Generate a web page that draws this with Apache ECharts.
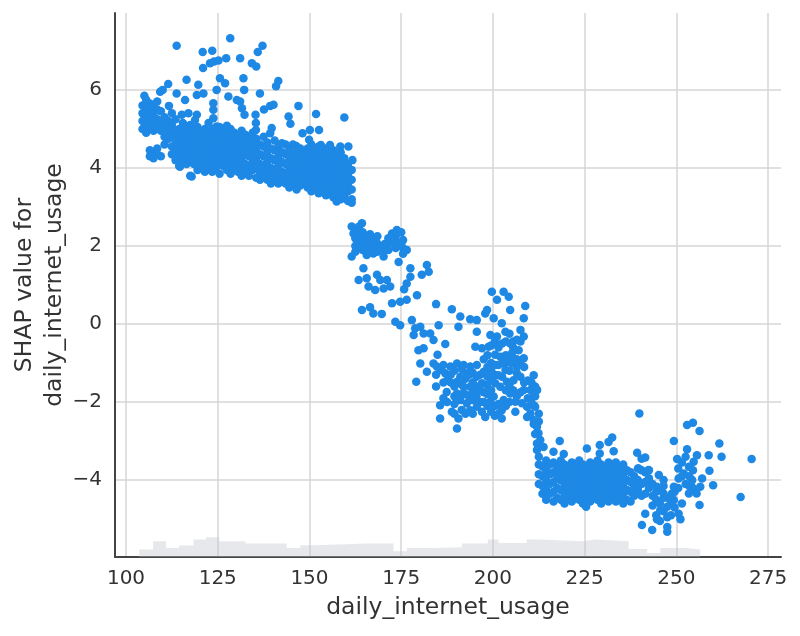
<!DOCTYPE html>
<html><head><meta charset="utf-8">
<script src="https://cdn.jsdelivr.net/npm/echarts@6/dist/echarts.min.js"></script>
<style>html,body{margin:0;padding:0;background:#fff}#c{width:800px;height:636px}</style>
</head><body><div id="c"></div>
<script>
const xTicks = [100,125,150,175,200,225,250,275];
const yTicks = [-4,-2,0,2,4,6];
const xTitle = 'daily_internet_usage';
const yTitle = 'SHAP value for\ndaily_internet_usage';

// histogram of daily_internet_usage (bin edges, relative counts)
const histEdges = [103.6,107.4,110.9,114.5,118.4,121.8,125.4,132.5,143.8,147.5,150.6,158.2,165.6,172.9,176.5,180.2,183.8,191.5,198.6,201.5,209.2,212.9,224.2,227.9,237.0,242.0,245.6,252.5,256.5];
const histCounts = [7.5,15.7,9,11.4,17.4,19.7,15.7,13.4,9,11.7,12.5,13.4,13.4,5.7,9,9,9.7,13.4,17.4,14,17.4,15.7,17.4,15.7,8,4,9,7.4];

// dense columns: [usage, [shap values...]]
const colsA = [
[104.5,[5.6,5.4,5.2,5.0]],[105.5,[5.75,5.5,5.3,5.1,4.9]],[106.5,[5.65,5.45,5.25,5.05,4.45,4.3]],
[107.5,[5.55,5.35,5.15,4.95,4.4,4.25]],[108.5,[5.7,5.5,5.25,5.05,4.5,4.35]],[109.5,[5.45,5.2,4.95,4.3]],
[110.5,[5.3,5.05,4.8,4.6]],[111.5,[5.2,4.95,4.75]],[112.5,[5.1,4.85,4.55,4.35]],[113.5,[5.25,4.95,4.7,4.45,4.2]],
[114.5,[5.0,4.8,4.55,4.3,4.05]],[115.5,[5.15,4.9,4.65,4.45,4.2]],[116.5,[5.0,4.75,4.55,4.3,4.1]],
[117.5,[5.1,4.85,4.6,4.4,4.2,3.8]],[118.5,[4.95,4.7,4.5,4.3,4.1]],[119.5,[5.05,4.8,4.55,4.35,4.15,3.95]],
[120.5,[4.9,4.65,4.45,4.25,4.05]],[121.5,[5.0,4.75,4.5,4.3,4.1,3.9]],[122.5,[4.85,4.6,4.4,4.2,4.0]],
[123.5,[5.0,4.75,4.5,4.3,4.1,3.9]],[124.5,[4.9,4.65,4.45,4.25,4.0]],[125.5,[5.05,4.8,4.55,4.35,4.15,3.85]],
[126.5,[4.95,4.7,4.5,4.3,4.05]],[127.5,[4.85,4.6,4.4,4.2,3.95]],[128.5,[5.0,4.75,4.55,4.3,4.1,3.85]],
[129.5,[4.9,4.65,4.45,4.2,4.0]],[130.5,[4.8,4.55,4.35,4.15,3.9]],[131.5,[4.95,4.7,4.45,4.25,4.0,3.8]],
[132.5,[4.85,4.6,4.35,4.1,3.9]],[133.5,[4.75,4.5,4.3,4.05,3.8]],[134.5,[4.9,4.65,4.4,4.15,3.95]],
[135.5,[4.75,4.5,4.25,4.0,3.75]],[136.5,[4.6,4.35,4.1,3.9,3.7]],[137.5,[4.8,4.55,4.3,4.05,3.8]],
[138.5,[4.65,4.4,4.15,3.9,3.7]],[139.5,[4.5,4.25,4.0,3.8,3.6]],[140.5,[4.7,4.45,4.2,3.95,3.7]],
[141.5,[4.55,4.3,4.05,3.85,3.6]],[142.5,[4.4,4.15,3.9,3.7]],[143.5,[4.6,4.35,4.1,3.85,3.6]],
[144.5,[4.45,4.2,3.95,3.75,3.5]],[145.5,[4.6,4.3,4.05,3.8,3.6]],[146.5,[4.4,4.15,3.9,3.7,3.45]],
[147.5,[4.5,4.25,4.0,3.75,3.55]],[148.5,[4.35,4.1,3.85,3.6]],[149.5,[4.5,4.25,4.0,3.75,3.5]],
[150.5,[4.6,4.35,4.1,3.85,3.6,3.4]],[151.5,[4.45,4.2,3.95,3.7,3.5]],[152.5,[4.55,4.3,4.05,3.8,3.55,3.35]],
[153.5,[4.4,4.15,3.9,3.65,3.45]],[154.5,[4.5,4.25,4.0,3.75,3.5,3.3]],[155.5,[4.35,4.1,3.85,3.6,3.4]],
[156.5,[4.45,4.2,3.95,3.7,3.45,3.25]],[157.5,[4.3,4.05,3.8,3.55,3.35]],[158.5,[4.4,4.15,3.9,3.65,3.4,3.2]],
[159.5,[4.25,4.0,3.75,3.5,3.3]],[160.5,[4.1,3.85,3.6,3.4,3.15]],[161.5,[3.95,3.7,3.45,3.2]]
];
const pointsA = [
[113.8,7.13],[128.4,7.32],[120.9,6.97],[123.5,7.0],[137.2,7.13],[135.9,6.97],[131.1,6.81],[127.3,6.81],[124.0,6.73],[125.2,6.75],
[122.9,6.68],[121.0,6.56],[134.3,6.68],[135.5,6.6],[125.6,6.3],[127.0,6.17],[132.0,6.3],[132.2,6.0],[141.5,6.23],[140.9,6.09],
[116.5,6.26],[119.7,6.13],[111.5,6.15],[110.0,6.0],[124.7,6.0],[113.8,5.91],[116.1,5.74],[119.3,5.87],[121.1,5.91],[127.9,5.83],
[130.2,5.74],[131.1,5.7],[136.5,5.91],[139.3,5.59],[140.2,5.62],[147.0,5.59],[123.8,5.66],[123.8,5.49],[123.8,5.27],[131.6,5.53],
[132.3,5.36],[135.3,5.36],[137.6,5.5],[144.3,5.32],[144.8,5.13],[151.8,5.38],[159.5,5.29],[111.7,5.59],[112.5,5.4],[115.2,5.36],
[117.0,5.4],[119.3,5.36],[118.8,5.23],[127.5,5.08],[124.7,5.06],[122.5,5.15],[135.4,5.15],[135.4,4.97],[139.7,5.02],[139.3,4.89],
[148.1,4.89],[150.1,4.97],[152.6,4.97],[149.9,4.72],[153.1,4.59],[155.6,4.59],[158.4,4.55],[160.6,4.55],[161.7,4.2],[146.4,4.56],
[142.5,4.63],[114.7,4.03],[117.9,3.78],[157.4,3.14],[161.5,3.11],[109.3,5.95],[105.0,5.85]
];
const colsB = [
[162.5,[2.4,2.2,2.0,1.85]],[163.5,[2.5,2.3,2.1]],[164.5,[2.35,2.2,1.9]],[165.5,[2.25,2.05,1.9]],
[166.5,[2.3,2.0,1.85]],[167.5,[2.2,2.0]],[168.5,[2.25,1.85]],[170.5,[2.05,1.9]],[171.5,[2.1,2.2]],
[173.5,[2.25,2.1,1.95]],[175.5,[2.15,1.95,1.8]],[175.0,[2.35]]
];
const pointsB = [
[161.5,2.5],[164.3,2.58],[162,2.32],[162.9,2.15],[164.7,2.07],[166.5,2.11],[168.4,2.07],[169.3,1.94],[167.4,1.81],[165.6,1.77],
[161.5,1.73],[163.8,1.94],[172.5,2.32],[173.8,2.41],[172.9,2.07],[174.7,2.03],[176.5,1.9],[171.5,1.9],[170.2,1.73],[174.3,1.59],
[177.5,1.43],[182,1.51],[182.5,1.34],[180.6,1.26],[177.5,1.21],[176.5,1.04],[175.8,0.89],[179.3,0.74],[176.5,0.62],[174.7,0.57],
[164.7,1.43],[163.4,1.13],[165.6,1.17],[168.4,1.26],[169.3,1.13],[171.1,1.13],[167.9,0.87],[166.1,0.96],[170.2,0.91],[172,0.96],
[164.3,0.36],[166.5,0.43],[167.4,0.27],[169.7,0.26],[172.5,0.53],[173.4,0.06],[174.7,-0.03],[184.5,0.51]
];
const colsC = [
[184.5,[-1.3,-1.6]],[186.5,[-1.5,-1.9]],[187.5,[-1.45,-2.0]],
[188.5,[-1.3,-1.5]],[189.5,[-1.2,-1.6,-1.85,-2.05,-2.3]],[191.5,[-1.15,-1.55,-1.8,-2.2]],[192.5,[-1.4,-1.8,-2.3]],[193.5,[-1.3,-1.85]],
[194.5,[-1.25,-1.5,-1.75,-2.3]],[195.5,[-1.35,-1.6,-1.85]],[196.5,[-1.3,-1.7,-2.0]],[197.5,[-0.9,-1.75,-2.0]],
[198.5,[-0.8,-1.1,-1.35,-1.8,-2.1]],[199.5,[-0.55,-1.0,-1.2,-1.7,-2.25]],[200.5,[-0.45,-1.05,-1.3,-2.1,-2.35]],[201.5,[-0.6,-1.05,-2.05,-2.3]],
[202.5,[-0.5,-1.0,-1.35]],[203.5,[-0.45,-0.8,-1.0,-1.7,-2.1]],[204.5,[-0.25,-0.9,-1.2,-1.55,-2.0]],[205.5,[-0.45,-0.6,-1.7]],
[206.5,[-0.4,-0.9,-1.1,-1.85]],[207.5,[-0.45,-1.0,-1.35,-1.75]],[208.5,[-1.1,-1.5]],[209.5,[-1.45,-1.9]],[210.5,[-1.5,-1.9,-2.05]],[211.5,[-1.6,-1.85]],[212.5,[-2.3,-2.5]]
];
const pointsC = [
[177.9,0.1],[178.8,-0.11],[180.2,-0.07],[178.4,-0.28],[181.1,-0.24],[182.9,-0.24],[183.8,-0.41],[185.2,-0.03],[179.7,-0.67],[181.1,-0.62],
[180.2,-1.01],[182,-1.22],[179.1,-1.48],[184.9,-0.79],[187,-0.51],[183.8,-1.01],[184.7,-1.09],[186.5,-1.05],[188.4,-1.09],[190.2,-1.01],
[192,-1.05],[193.8,-1.09],[195.6,-1.05],[197.5,-1.22],[192.9,-1.26],[191.1,-1.35],[187,-1.26],[185.6,-1.18],
[188.8,0.38],[191.1,0.19],[190.6,-0.07],[193.8,0.12],[195.6,0.10],[197.9,0.27],[198.4,0.36],[199.7,0.83],[201.1,0.62],[202.9,0.83],
[204.3,0.7],[204.7,0.36],[208.8,0.46],[208.4,0.15],[200.2,0.15],[202.4,0.02],[203.4,-0.2],[195.6,-0.2],[195.2,-0.58],[197,-0.62],
[199.3,-0.28],[201.1,-0.32],[198.8,-0.58],[200.6,-0.79],[202,-0.84],[204.7,-0.5],[205.2,-0.75],[207,-0.67],[207.5,-0.15],[208.4,-0.32],
[208.4,-0.88],[205.2,-1.01],[203.4,-1.18],[201.5,-1.31],[199.7,-1.44],[198.4,-1.56],[197,-1.52],[200.6,-1.52],[202,-1.61],[203.8,-1.48],
[205.6,-1.44],[206.5,-1.26],[211.1,-1.31],[212,-1.69],[210.2,-1.69],
[187.4,-1.74],[190.2,-1.48],[190.2,-1.78],[192,-1.61],[193.8,-1.61],[191.1,-1.95],[192.9,-2.03],[194.7,-1.95],[195.6,-2.12],[197,-2.25],
[197.9,-2.38],[193.8,-2.21],[199.3,-1.99],[200.2,-1.86],[202.9,-1.95],[204.7,-1.78],[206.1,-1.99],[207.9,-2.03],[202.4,-2.21],[202.4,-2.42],
[206.1,-2.25],[185.6,-2.08],[188.8,-2.25],[190.6,-2.42],[185.6,-2.42],[190.2,-2.68],
[210.2,-2.29],[211.1,-2.46],[212,-2.63],[212.4,-2.8],[212.9,-2.97],[213.8,-3.15],[209.3,-2.12],[211.5,-2.12]
];
const colsD = [
[212.5,[-3.4,-3.6,-3.85,-4.1]],[213.5,[-3.65,-3.9,-4.15,-4.35]],[214.5,[-3.5,-3.75,-4.0,-4.25,-4.5]],
[215.5,[-3.6,-3.85,-4.1,-4.35]],[216.5,[-3.55,-3.8,-4.05,-4.3,-4.55]],[217.5,[-3.65,-3.9,-4.2,-4.45]],
[218.5,[-3.5,-3.75,-4.0,-4.25,-4.5]],[219.5,[-3.6,-3.85,-4.1,-4.35,-4.6]],[220.5,[-3.7,-3.95,-4.2,-4.45]],
[221.5,[-3.55,-3.8,-4.05,-4.3,-4.55]],[222.5,[-3.65,-3.9,-4.15,-4.4]],[223.5,[-3.5,-3.75,-4.0,-4.25,-4.5]],
[224.5,[-3.6,-3.85,-4.1,-4.35,-4.6]],[225.5,[-3.7,-3.95,-4.2,-4.45]],[226.5,[-3.55,-3.8,-4.05,-4.3,-4.55]],
[227.5,[-3.65,-3.9,-4.15,-4.4]],[228.5,[-3.5,-3.75,-4.0,-4.25,-4.5]],[229.5,[-3.6,-3.85,-4.1,-4.35,-4.6]],
[230.5,[-3.7,-3.95,-4.2,-4.45]],[231.5,[-3.55,-3.8,-4.05,-4.3,-4.55]],[232.5,[-3.65,-3.9,-4.15,-4.4]],
[233.5,[-3.55,-3.8,-4.05,-4.3,-4.55]],[234.5,[-3.7,-3.95,-4.2,-4.45]],[235.5,[-3.6,-3.85,-4.1,-4.35,-4.6]],
[236.5,[-3.75,-4.0,-4.25,-4.5]],[237.5,[-3.8,-4.05,-4.3,-4.55]],[238.5,[-3.9,-4.15,-4.4]],
[239.5,[-3.7,-4.0,-4.25]],[240.5,[-3.45,-3.75,-4.1,-4.4]],[241.5,[-3.8,-4.05,-4.35]],[242.5,[-3.75,-3.95,-4.2]]
];
const colsE = [
[243.5,[-4.1,-4.4,-4.65]],[244.5,[-4.3,-4.5,-4.9]],[245.5,[-4.25,-4.6,-5.05]],[246.5,[-4.15,-4.45,-4.8]],
[247.5,[-4.45,-4.95]],[248.5,[-4.6,-4.9]],[249.5,[-4.3,-4.7]],[250.5,[-3.7,-4.2]],[251.5,[-3.55,-3.9,-4.6]],
[252.5,[-3.4,-4.1]],[253.5,[-3.9,-4.15]],[254.5,[-3.75,-4.2]]
];
const pointsDE = [
[208.4,-1.69],[212,-1.69],[211.1,-2.08],[209.3,-2.38],[211.1,-2.56],[211.5,-2.82],[212,-3.06],[212,-3.23],
[239.9,-2.29],[252.9,-2.59],[254.5,-2.53],[256.3,-2.74],[249.3,-3.0],[261.7,-3.06],[252.9,-3.21],[255.6,-3.36],[258.8,-3.36],[262.3,-3.4],
[270.5,-3.46],[250.2,-3.46],[254.7,-3.53],[253.4,-3.66],[259,-3.76],[252,-3.83],[250.6,-3.96],[254.3,-4.0],[257,-3.96],[260,-4.13],
[256.5,-4.17],[253.4,-4.34],[255.5,-4.34],[256.3,-4.64],[267.5,-4.43],[250.6,-4.86],[251.1,-5.0],[247.5,-5.2],[247.5,-5.32],[240.6,-5.15],
[243.4,-5.28],[244.7,-5.0],[241.5,-4.86],[245.6,-4.77],[247.5,-4.68],[249.3,-4.51],[246.5,-4.34],[248.8,-4.34],[249.3,-4.17],[244.7,-4.17],
[246.5,-4.0],[245.2,-3.87],[242.4,-3.74],[239.3,-3.3],[241.5,-3.42],[239.7,-3.7],[225.6,-3.19],[229.1,-3.1],[229.1,-3.32],[231.5,-3.02],
[232.5,-2.91],[232.9,-3.26],[218.2,-3.0],[216.5,-3.27],[219.3,-3.33],[225.4,-4.68]
];

function expand(cols){ const out=[]; cols.forEach(c=>c[1].forEach(v=>out.push([c[0],v]))); return out; }
const scatterData = [].concat(expand(colsA),pointsA,expand(colsB),pointsB,expand(colsC),pointsC,expand(colsD),expand(colsE),pointsDE);
const histData = histEdges.map((e,i)=>[e, histCounts[Math.min(i,histCounts.length-1)]]);

const txt = '#333333';
const font = 'DejaVu Sans';
const chart = echarts.init(document.getElementById('c'), null, {renderer:'canvas'});
chart.setOption({
  animation:false,
  backgroundColor:'#ffffff',
  grid:{left:115,right:19,top:13,bottom:79,containLabel:false,outerBoundsMode:'none'},
  xAxis:{
    type:'value',min:97,max:278.5,
    name:xTitle,nameLocation:'middle',nameGap:39,nameMoveOverlap:false,
    nameTextStyle:{fontFamily:font,fontSize:23.5,color:txt},
    axisLine:{show:true,onZero:false,lineStyle:{color:'#444444',width:2}},
    axisTick:{show:false,customValues:xTicks},
    axisLabel:{customValues:xTicks,fontFamily:font,fontSize:20,color:txt,margin:12},
    splitLine:{show:true,lineStyle:{color:'#d6d6d6',width:1.5}}
  },
  yAxis:[{
    type:'value',min:-5.97,max:7.97,
    name:yTitle,nameLocation:'middle',nameGap:45,nameRotate:90,nameMoveOverlap:false,
    nameTextStyle:{fontFamily:font,fontSize:23.5,color:txt,lineHeight:30,align:'center'},
    axisLine:{show:true,onZero:false,lineStyle:{color:'#444444',width:2}},
    axisTick:{show:false,customValues:yTicks},
    axisLabel:{customValues:yTicks,fontFamily:font,fontSize:20,color:txt,margin:13,
      formatter:v=>String(v).replace('-','\u2212')},
    splitLine:{show:true,lineStyle:{color:'#d6d6d6',width:1.5}}
  },{
    type:'value',min:0,max:544,show:false
  }],
  series:[{
    type:'line',yAxisIndex:1,step:'end',data:histData,symbol:'none',silent:true,
    lineStyle:{width:0,opacity:0},
    areaStyle:{color:'rgba(190,196,205,0.55)',origin:'start'},z:1
  },{
    type:'scatter',data:scatterData,symbolSize:8.5,
    itemStyle:{color:'#1E88E5',opacity:1},z:3
  }]
});
</script></body></html>
